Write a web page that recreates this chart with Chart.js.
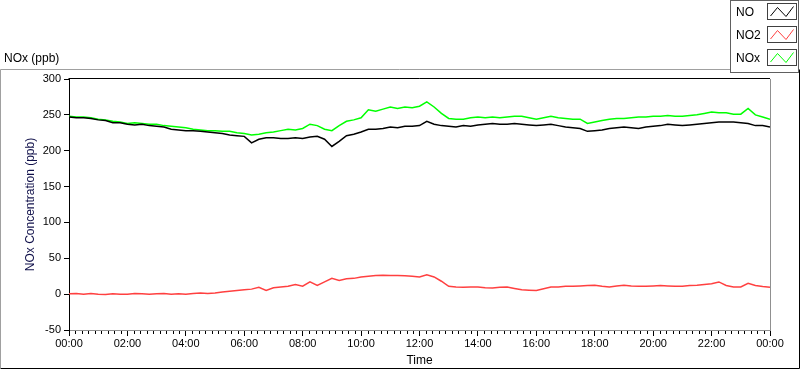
<!DOCTYPE html>
<html>
<head>
<meta charset="utf-8">
<script src="https://cdn.jsdelivr.net/npm/chart.js@4.4.0/dist/chart.umd.min.js"></script>
<style>
  html, body { margin: 0; padding: 0; background: #fff; }
  #wrap { width: 800px; height: 369px; }
</style>
</head>
<body>
<div id="wrap"><canvas id="noxChart" width="800" height="369"></canvas></div>
<script>
// one sample every 15 minutes, 00:00 .. 24:00
const sampleStepMin = 15;
const seriesNames = ['NO', 'NO2', 'NOx'];
const seriesColors = ['#000000', '#ff4040', '#00ff00'];

const noValues = [
    247, 246, 246, 245,  243, 242, 239, 239,  237, 236, 237, 235,  234, 233, 230, 229,
    228, 228, 227, 226,  225, 224, 222, 221,  220, 211, 216, 218,  218, 217, 217, 218,
    217, 219, 220, 216,  206, 213, 221, 223,  226, 230, 230, 231,  233, 232, 234, 234,
    235, 241, 237, 235,  234, 233, 235, 234,  236, 237, 238, 237,  237, 238, 237, 236,
    235, 236, 237, 235,  233, 232, 231, 227,  228, 229, 231, 232,  233, 232, 231, 233,
    234, 235, 237, 236,  235, 236, 237, 238,  239, 240, 240, 240,  239, 238, 235, 235,
    233
];
const no2Values = [
    0.5, 1, 0, 1,  0, -0.5, 0.5, 0,  0, 1, 0.5, 0,  0.5, 1, 0, 0.5,
    0, 1, 1.5, 1,  1.5, 3, 4, 5,  6, 7, 9.5, 5,  9, 10, 11, 13.5,
    11, 17, 12, 17,  22, 19, 21.5, 22,  24, 25, 26, 26.5,  26, 26, 25.5, 25,
    24, 27, 24, 18,  11, 10, 9.5, 10,  10, 9, 8.5, 9.5,  10, 8, 6, 5.5,
    5, 7.5, 10, 10,  11, 11, 11.5, 12,  12.5, 11, 10, 11.5,  12.5, 11.5, 11, 11,
    11.5, 12, 11.5, 11,  11, 12, 12.5, 13.5,  14.5, 17, 12, 10,  10, 15, 12, 10.5,
    9.5
];
const noxValues = [
    248, 247, 247, 246,  244, 243, 241, 240,  238, 239, 238, 237,  237, 235, 234, 233,
    232, 230, 229, 228,  228, 227, 227, 225,  224, 222, 223, 225,  226, 228, 230, 229,
    231, 237, 235, 230,  228, 235, 241, 243,  246, 257, 255, 258,  261, 259, 261, 260,
    262, 268, 261, 252,  245, 244, 244, 246,  247, 246, 247, 246,  247, 248, 248, 246,
    244, 246, 248, 246,  245, 244, 244, 238,  240, 242, 244, 245,  245, 246, 247, 247,
    248, 248, 249, 248,  248, 249, 250, 252,  254, 253, 253, 251,  251, 259, 250, 247,
    244
];

const yMin = -50, yMax = 300, yStep = 50;
const xMaxMin = 1440, xMajorStepMin = 120, xMinorPerMajor = 9;

function toPoints(values) {
    return values.map((v, i) => ({ x: i * sampleStepMin, y: v }));
}

function fmtTime(m) {
    const h = Math.floor(m / 60) % 24;
    const mm = Math.round(m % 60);
    return String(h).padStart(2, '0') + ':' + String(mm).padStart(2, '0');
}

const FONT = '"Liberation Sans", Arial, sans-serif';

const framePlugin = {
    id: 'frame',
    beforeDraw(chart) {
        const c = chart.ctx;
        c.save();
        c.fillStyle = '#ffffff';
        c.fillRect(0, 0, chart.width, chart.height);
        // outer panel
        c.lineWidth = 1;
        c.strokeStyle = '#a0a0a0';
        c.beginPath();
        c.moveTo(0.5, 368); c.lineTo(0.5, 69.5); c.lineTo(799, 69.5);
        c.stroke();
        c.strokeStyle = '#000000';
        c.beginPath();
        c.moveTo(0.5, 368.5); c.lineTo(799.5, 368.5); c.lineTo(799.5, 69.5);
        c.stroke();
        // chart caption
        c.fillStyle = '#000000';
        c.font = '12px ' + FONT;
        c.textBaseline = 'middle';
        c.fillText('NOx (ppb)', 4, 59);
        c.restore();
    },
    afterDraw(chart) {
        const c = chart.ctx;
        const a = chart.chartArea;
        const xs = chart.scales.x;
        c.save();
        c.lineWidth = 1;
        // top (dark) and right (gray) plot edges
        c.strokeStyle = '#000000';
        c.beginPath();
        c.moveTo(Math.round(a.left) - 0.5, Math.round(a.top) - 0.5);
        c.lineTo(Math.round(a.right), Math.round(a.top) - 0.5);
        c.stroke();
        c.strokeStyle = '#909090';
        c.beginPath();
        c.moveTo(Math.round(a.right) + 0.5, Math.round(a.top));
        c.lineTo(Math.round(a.right) + 0.5, Math.round(a.bottom));
        c.stroke();
        // minor ticks on the time axis
        c.strokeStyle = '#000000';
        const nMinor = (xMaxMin / xMajorStepMin) * xMinorPerMajor;
        for (let k = 0; k <= nMinor; k++) {
            if (k % xMinorPerMajor === 0) continue;
            const px = Math.round(xs.getPixelForValue(k * xMaxMin / nMinor)) + 0.5;
            c.beginPath();
            c.moveTo(px, Math.round(a.bottom) + 1);
            c.lineTo(px, Math.round(a.bottom) + 4);
            c.stroke();
        }
        // legend panel
        const lx = 730.5, ly = 0.5, lw = 68, lh = 72;
        c.fillStyle = '#ffffff';
        c.fillRect(lx, ly, lw, lh);
        c.strokeStyle = '#606060';
        c.strokeRect(lx, ly, lw, lh);
        c.font = '12px ' + FONT;
        c.textBaseline = 'middle';
        chart.data.datasets.forEach((ds, i) => {
            const cy = 13 + i * 23;
            c.fillStyle = '#000000';
            c.fillText(ds.label, 736, cy);
            const bx = 767.5, by = cy - 9.5, bw = 29, bh = 16;
            c.strokeStyle = '#404040';
            c.strokeRect(bx, by, bw, bh);
            c.strokeStyle = ds.borderColor;
            c.lineWidth = 1;
            c.beginPath();
            c.moveTo(bx + 3, by + 12.5);
            c.lineTo(bx + 10, by + 4);
            c.lineTo(bx + 18.5, by + 13);
            c.lineTo(bx + 26, by + 3);
            c.stroke();
        });
        c.restore();
    }
};

const valueSets = [noValues, no2Values, noxValues];

new Chart(document.getElementById('noxChart').getContext('2d'), {
    type: 'line',
    data: {
        datasets: seriesNames.map((name, i) => ({
            label: name,
            data: toPoints(valueSets[i]),
            borderColor: seriesColors[i],
            backgroundColor: seriesColors[i],
            borderWidth: 1.5,
            pointRadius: 0,
            tension: 0,
            fill: false
        }))
    },
    options: {
        responsive: false,
        animation: false,
        layout: { padding: { left: 0, top: 79, right: 30, bottom: 0 } },
        plugins: {
            legend: { display: false },
            tooltip: { enabled: false }
        },
        scales: {
            x: {
                type: 'linear',
                min: 0,
                max: xMaxMin,
                afterFit: (s) => { s.height = 39; },
                ticks: {
                    stepSize: xMajorStepMin,
                    autoSkip: false,
                    maxRotation: 0,
                    padding: 1,
                    color: '#000000',
                    font: { family: FONT, size: 11 },
                    callback: (v) => fmtTime(v)
                },
                grid: {
                    drawOnChartArea: false,
                    tickLength: 6,
                    tickColor: '#000000'
                },
                border: { color: '#909090', width: 1 },
                title: {
                    display: true,
                    text: 'Time',
                    color: '#000000',
                    font: { family: FONT, size: 12 },
                    padding: { top: 0, bottom: 1 }
                }
            },
            y: {
                min: yMin,
                max: yMax,
                afterFit: (s) => { s.width = 69; },
                ticks: {
                    stepSize: yStep,
                    padding: 3,
                    color: '#000000',
                    font: { family: FONT, size: 11 }
                },
                grid: {
                    drawOnChartArea: false,
                    tickLength: 5,
                    tickColor: '#000000'
                },
                border: { color: '#000000', width: 1 },
                title: {
                    display: true,
                    text: 'NOx Concentration (ppb)',
                    color: '#10104a',
                    font: { family: FONT, size: 12 },
                    padding: { top: 23, bottom: 0 }
                }
            }
        }
    },
    plugins: [framePlugin]
});
</script>
</body>
</html>
